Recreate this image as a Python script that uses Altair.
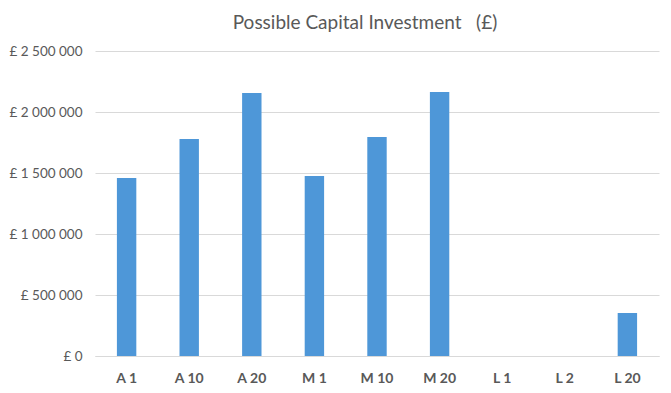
import altair as alt
import pandas as pd

categories = ["A 1", "A 10", "A 20", "M 1", "M 10", "M 20", "L 1", "L 2", "L 20"]
values = [1459000, 1779000, 2156000, 1475000, 1795000, 2164000, 0, 0, 352000]
y_ticks = [0, 500000, 1000000, 1500000, 2000000, 2500000]

df = pd.DataFrame({"cat": categories, "val": values})

FONT = "Lato"
GREY = "#595959"

chart = alt.Chart(df).mark_bar(color="#4e97d8").encode(
    x=alt.X("cat:N", sort=categories, title=None,
            scale=alt.Scale(paddingInner=0.69, paddingOuter=0.35),
            axis=alt.Axis(labelAngle=0, labelFont=FONT, labelFontSize=14,
                          labelFontWeight="bold", labelColor=GREY, ticks=False,
                          labelPadding=15, domainColor="#d9d9d9", domainWidth=1)),
    y=alt.Y("val:Q", title=None,
            scale=alt.Scale(domain=[0, 2500000], nice=False),
            axis=alt.Axis(values=y_ticks, labelFont=FONT, labelFontSize=13.5,
                          labelColor=GREY, ticks=False, domain=False,
                          labelPadding=13, gridColor="#d9d9d9",
                          labelExpr="'£ ' + replace(replace(format(datum.value, ','), ',', ' '), ',', ' ')")),
).properties(
    width=564, height=305,
    title=alt.TitleParams("Possible Capital Investment\u00a0\u00a0\u00a0(£)", font=FONT, fontSize=19,
                          fontWeight="normal", color=GREY, offset=11, dx=-12),
    autosize=alt.AutoSizeParams(type="none"),
    padding={"left": 87, "top": 43, "right": 4, "bottom": 29},
).configure_view(stroke=None)

chart.save("out.html", embed_options={"renderer": "svg", "actions": False})
